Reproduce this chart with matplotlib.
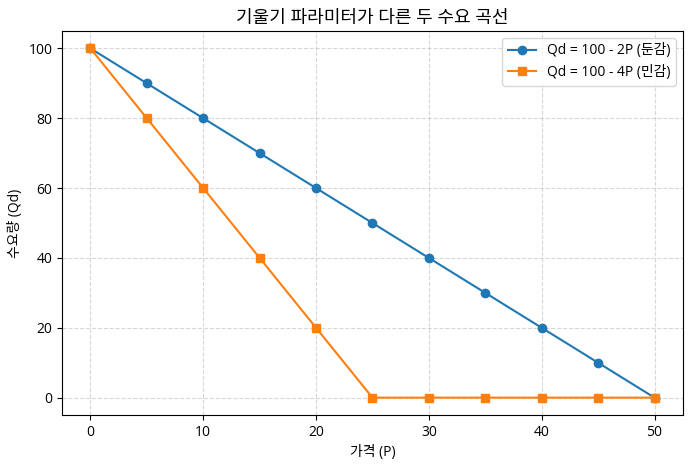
import matplotlib.pyplot as plt

plt.rcParams['font.family'] = ['Open Sans', 'Noto Sans CJK KR', 'DejaVu Sans']
plt.rcParams['axes.unicode_minus'] = False

# price points and quantities
price = [0, 5, 10, 15, 20, 25, 30, 35, 40, 45, 50]
qd_inelastic = [100, 90, 80, 70, 60, 50, 40, 30, 20, 10, 0]
qd_elastic = [100, 80, 60, 40, 20, 0, 0, 0, 0, 0, 0]

fig = plt.figure(figsize=(6.91, 4.68), dpi=100)
ax = fig.add_axes([0.09, 0.113, 0.898, 0.821])

ax.plot(price, qd_inelastic, marker='o', color='#1f77b4', label='Qd = 100 - 2P (둔감)')
ax.plot(price, qd_elastic, marker='s', color='#ff7f0e', label='Qd = 100 - 4P (민감)')

ax.set_title('기울기 파라미터가 다른 두 수요 곡선', fontsize=13)
ax.set_xlabel('가격 (P)')
ax.set_ylabel('수요량 (Qd)')
ax.grid(True, linestyle='--', alpha=0.5)
ax.legend(loc='upper right')

fig.savefig('out.png', dpi=100)
